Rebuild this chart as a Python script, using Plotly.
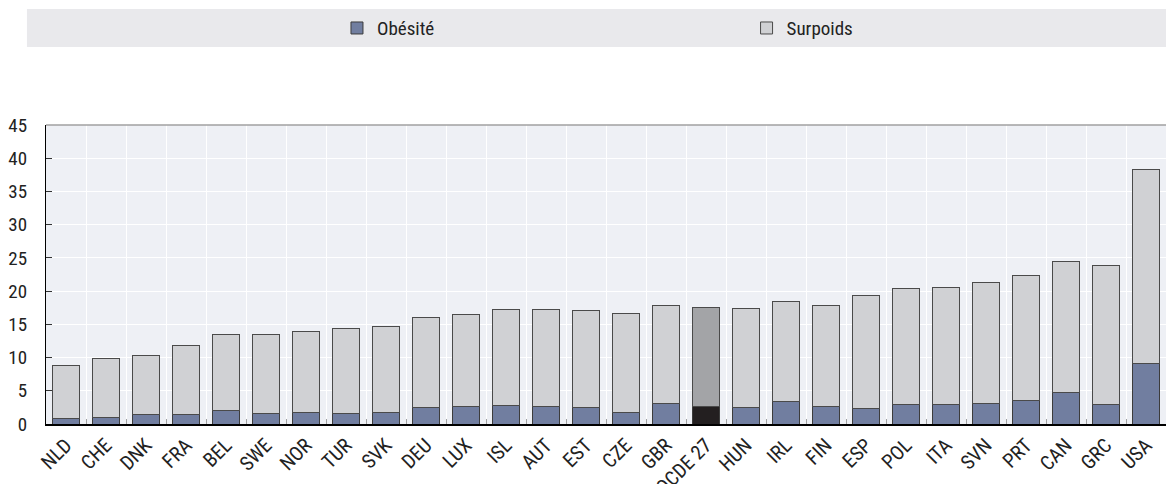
import plotly.graph_objects as go

countries = ["NLD", "CHE", "DNK", "FRA", "BEL", "SWE", "NOR", "TUR", "SVK", "DEU",
             "LUX", "ISL", "AUT", "EST", "CZE", "GBR", "OCDE 27", "HUN", "IRL", "FIN",
             "ESP", "POL", "ITA", "SVN", "PRT", "CAN", "GRC", "USA"]
obesite = [0.9, 1.0, 1.4, 1.5, 2.1, 1.6, 1.8, 1.6, 1.7, 2.5,
           2.6, 2.8, 2.6, 2.5, 1.8, 3.1, 2.6, 2.5, 3.4, 2.7,
           2.4, 2.9, 2.9, 3.1, 3.5, 4.7, 2.9, 9.1]
surpoids = [7.9, 8.8, 8.9, 10.3, 11.3, 11.8, 12.1, 12.8, 13.0, 13.5,
            13.9, 14.4, 14.6, 14.6, 14.8, 14.8, 14.9, 14.9, 15.0, 15.1,
            17.0, 17.5, 17.7, 18.2, 18.9, 19.7, 20.9, 29.2]
yticks = [0, 5, 10, 15, 20, 25, 30, 35, 40, 45]

highlight = "OCDE 27"
ob_colors = ["#231f20" if c == highlight else "#717ea0" for c in countries]
sp_colors = ["#a3a4a7" if c == highlight else "#d0d1d4" for c in countries]

FONT = "Roboto Condensed, Liberation Sans Narrow, Arial Narrow, sans-serif"

fig = go.Figure()
fig.add_trace(go.Bar(x=countries, y=obesite, name="Obésité", legend="legend",
                     marker=dict(color=ob_colors, line=dict(color="#3c3c3c", width=1)),
                     width=0.67))
fig.add_trace(go.Bar(x=countries, y=surpoids, name="Surpoids", legend="legend2",
                     marker=dict(color=sp_colors, line=dict(color="#4a4a4a", width=1)),
                     width=0.67))

legend_common = dict(orientation="h", yanchor="middle", y=1.324, xanchor="left",
                     bgcolor="rgba(0,0,0,0)", itemwidth=30,
                     font=dict(family=FONT, size=19, color="#222222"))

fig.update_layout(
    barmode="stack",
    width=1166, height=484,
    margin=dict(l=46, r=0, t=125, b=60, autoexpand=False),
    paper_bgcolor="white",
    plot_bgcolor="#eef0f5",
    font=dict(family=FONT, size=18, color="#222222"),
    showlegend=True,
    legend=dict(legend_common, x=0.2598),
    legend2=dict(legend_common, x=0.6255),
    bargap=0.33,
    shapes=[
        dict(type="rect", xref="paper", yref="paper", x0=-0.017, x1=1.0, y0=1.261, y1=1.388,
             fillcolor="#e9e9ec", line=dict(width=0), layer="below"),
        dict(type="line", xref="paper", yref="paper", x0=0, x1=1, y0=1, y1=1,
             line=dict(color="#a0a0a0", width=1.5)),
    ],
)
fig.update_xaxes(
    type="category", tickangle=-45, tickson="boundaries", ticks="inside", ticklen=5,
    tickcolor="#a0a0a0", showgrid=True, gridcolor="white", gridwidth=1,
    showline=True, linecolor="#000000", linewidth=1.5, automargin=False,
    tickfont=dict(family=FONT, size=20, color="#222222"),
)
fig.update_yaxes(
    range=[0, 45], tickvals=yticks, showgrid=True, gridcolor="white", gridwidth=1,
    zeroline=False, ticks="inside", ticklen=6, tickcolor="#333333",
    showline=True, linecolor="#000000", linewidth=1.2, automargin=False,
    ticklabelstandoff=14,
    tickfont=dict(family=FONT, size=19, color="#222222"),
)

fig.write_html("out.html", config={"displayModeBar": False},
               post_script="document.body.style.margin='0';document.body.style.padding='0';")
